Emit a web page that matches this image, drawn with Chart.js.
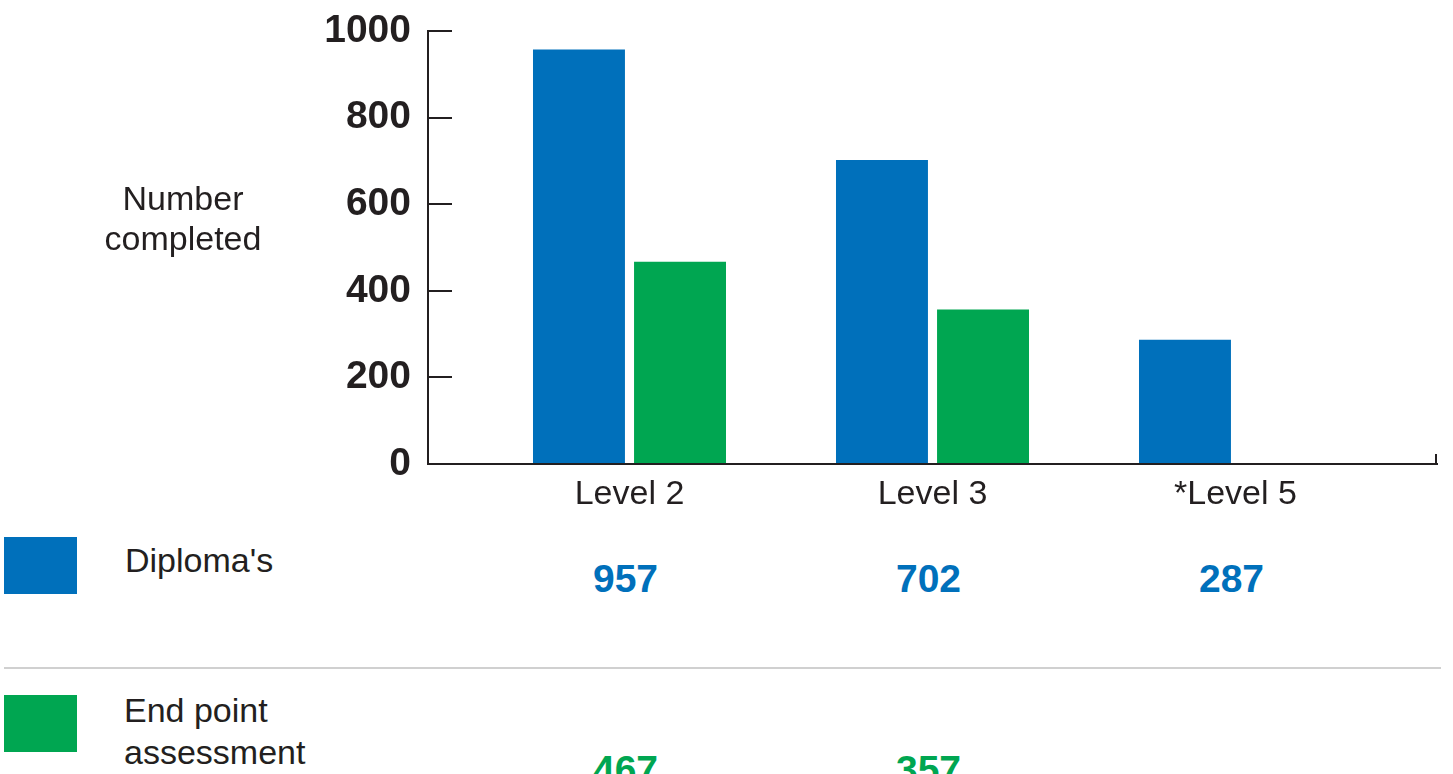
<!DOCTYPE html>
<html>
<head>
<meta charset="utf-8">
<script src="https://cdn.jsdelivr.net/npm/chart.js@4"></script>
<style>
  html, body { margin: 0; padding: 0; background: #fff; }
  #wrap { position: relative; width: 1453px; height: 774px; overflow: hidden; font-family: "Liberation Sans", Arial, sans-serif; color: #231f20; }
  #c { position: absolute; left: 0; top: 0; }
  .abs { position: absolute; white-space: nowrap; }
  .lbl { font-size: 34px; line-height: 41px; }
  .val { font-size: 39px; line-height: 47px; font-weight: bold; transform: translateX(-50%); }
  .box { position: absolute; left: 4px; width: 73px; height: 57px; }
</style>
</head>
<body>
<div id="wrap">
  <canvas id="c" width="1453" height="520" style="width:1453px;height:520px;"></canvas>
  <div class="abs lbl" id="ytitle" style="left:83px; top:178px; width:200px; text-align:center; line-height:40px;">Number<br>completed</div>
  <div class="box" id="box0" style="top:537px;"></div>
  <div class="abs lbl" id="leg0" style="left:125px; top:540px;"></div>
  <div class="abs" style="left:4px; top:667px; width:1437px; height:2px; background:#d0d0d0;"></div>
  <div class="box" id="box1" style="top:695px;"></div>
  <div class="abs lbl" id="leg1" style="left:124px; top:689px; line-height:42px;"></div>
</div>
<script>
const categories = ['Level 2', 'Level 3', '*Level 5'];
const diplomas = [957, 702, 287];
const endPoint = [467, 357, null];
const seriesNames = ["Diploma's", ['End point', 'assessment']];
const seriesColors = ['#0070bb', '#00a651'];
const yTicks = [0, 200, 400, 600, 800, 1000];

const INK = '#231f20';
const toPoints = arr => arr.map((v, i) => ({ x: i, y: v }));

const endTick = {
  id: 'endTick',
  afterDraw(chart) {
    const { ctx, chartArea } = chart;
    ctx.save();
    ctx.strokeStyle = INK;
    ctx.lineWidth = 2;
    ctx.beginPath();
    ctx.moveTo(chartArea.right - 1, chartArea.bottom);
    ctx.lineTo(chartArea.right - 1, chartArea.bottom - 10);
    ctx.stroke();
    ctx.restore();
  }
};

const chart = new Chart(document.getElementById('c'), {
  type: 'bar',
  data: {
    datasets: [
      { label: "Diploma's", data: toPoints(diplomas), backgroundColor: seriesColors[0], borderWidth: 0 },
      { label: 'End point assessment', data: toPoints(endPoint), backgroundColor: seriesColors[1], borderWidth: 0 }
    ]
  },
  options: {
    responsive: false,
    animation: false,
    devicePixelRatio: 1,
    categoryPercentage: 0.667,
    barPercentage: 0.91,
    layout: { padding: { left: 0, top: 31, right: 16, bottom: 0 } },
    plugins: { legend: { display: false }, tooltip: { enabled: false }, title: { display: false } },
    scales: {
      x: {
        type: 'linear',
        offset: false,
        min: -0.665,
        max: 2.665,
        grid: { display: false, offset: false },
        border: { display: true, color: INK, width: 2, z: 1 },
        ticks: {
          stepSize: 1,
          includeBounds: false,
          autoSkip: false,
          maxRotation: 0,
          padding: 2,
          color: INK,
          font: { family: '"Liberation Sans", Arial, sans-serif', size: 34 },
          callback: v => categories[v] ?? ''
        },
        afterFit(scale) { scale.height = 520 - 464; }
      },
      y: {
        min: 0,
        max: 1000,
        grid: { display: true, drawOnChartArea: false, drawTicks: true, tickLength: -24, color: INK, lineWidth: 2 },
        border: { display: true, color: INK, width: 2, z: 1 },
        afterBuildTicks(scale) { scale.ticks = yTicks.map(v => ({ value: v })); },
        ticks: {
          padding: 41,
          color: INK,
          font: { family: '"Liberation Sans", Arial, sans-serif', size: 39, weight: 'bold' },
          callback: v => String(v)
        },
        afterFit(scale) {
          scale.width = 428;
          scale.paddingTop = 20;
          scale.paddingBottom = 20;
        }
      }
    }
  },
  plugins: [endTick]
});

// legend / value table below the chart
const wrap = document.getElementById('wrap');
document.getElementById('box0').style.background = seriesColors[0];
document.getElementById('box1').style.background = seriesColors[1];
document.getElementById('leg0').textContent = seriesNames[0];
document.getElementById('leg1').innerHTML = seriesNames[1].join('<br>');

const xs = chart.scales.x;
const rows = [{ data: diplomas, top: 555, color: seriesColors[0] }, { data: endPoint, top: 746, color: seriesColors[1] }];
rows.forEach(r => {
  r.data.forEach((v, i) => {
    if (v === null) return;
    const d = document.createElement('div');
    d.className = 'abs val';
    d.style.left = (xs.getPixelForValue(i) - 4) + 'px';
    d.style.top = r.top + 'px';
    d.style.color = r.color;
    d.textContent = String(v);
    wrap.appendChild(d);
  });
});
</script>
</body>
</html>
